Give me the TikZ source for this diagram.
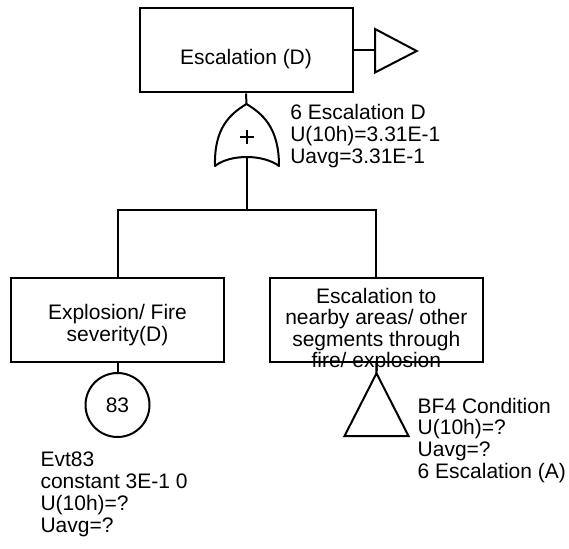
\documentclass[tikz,border=0pt]{standalone}
\usepackage{fontspec}
\setmainfont{Liberation Sans}
\begin{document}
\begin{tikzpicture}[x=1pt, y=-1pt, line width=2pt,
  every node/.style={font=\fontsize{21}{22}\selectfont, inner sep=0pt},
  box/.style={draw, minimum width=213pt, minimum height=84pt},
  basic/.style={draw, circle, minimum size=64pt},
  lbl/.style={anchor=base west},
  boxtext/.style={anchor=base}]
\useasboundingbox (0,0) rectangle (569,548);

% top event and its transfer-out triangle
\node[box] (top) at (246,50.5) {};
\node[boxtext] (toptxt) at (246,64.3) {Escalation (D)};
\coordinate (xferA) at (375,29);
\coordinate (xferB) at (375,72.5);
\coordinate (xferC) at (416.7,51);
\coordinate (xferIn) at (375,50.5);
\draw (xferA) -- (xferC) -- (xferB) -- cycle;
\draw (top.east) -- (xferIn);

% OR gate
\coordinate (gatetop) at (246.5,104);
\coordinate (gatebot) at (246.5,157);
\coordinate (gateL) at (215,166);
\coordinate (gateR) at (279,166);
\draw[line join=round] (gateL) .. controls (214,128) and (230,114) .. (gatetop)
  .. controls (263,114) and (279,128) .. (gateR)
  .. controls (263,154) and (230,154) .. cycle;
\coordinate (plus) at (246.5,136.7);
\draw ([xshift=-7pt]plus) -- ([xshift=7pt]plus);
\draw ([yshift=-7pt]plus) -- ([yshift=7pt]plus);
\node[lbl] (gatelbl) at (289.3,120) {\begin{tabular}[t]{@{}l@{}}6 Escalation D\\U(10h)=3.31E-1\\Uavg=3.31E-1\end{tabular}};
\draw (top.south) -- (gatetop);

% inputs of the gate
\node[box] (left) at (117.5,320) {};
\node[boxtext] (lefttxt) at (117.5,319) {\begin{tabular}[t]{@{}c@{}}Explosion/ Fire\\severity(D)\end{tabular}};
\node[box] (right) at (376.3,320) {};
\node[boxtext, font=\fontsize{21}{20.7}\selectfont] (righttxt) at (376.3,303.5)
  {\begin{tabular}[t]{@{}c@{}}Escalation to\\nearby areas/ other\\segments through\\fire/ explosion\end{tabular}};

\coordinate (bus) at (246.5,210);
\draw (gatebot) -- (bus);
\draw (left.north) |- (bus) -| (right.north);

% basic event 83
\node[basic] (evt) at (117.5,405) {83};
\draw (left.south) -- (evt.north);
\node[lbl] (evtlbl) at (39.5,466) {\begin{tabular}[t]{@{}l@{}}Evt83\\constant 3E-1 0\\U(10h)=?\\Uavg=?\end{tabular}};

% transfer-in triangle
\coordinate (trTop) at (376.5,373.3);
\coordinate (trL) at (344.5,436);
\coordinate (trR) at (408.5,436);
\draw[line join=miter] (trTop) -- (trR) -- (trL) -- cycle;
\draw (right.south) -- (trTop);
\node[lbl, font=\fontsize{21}{21.5}\selectfont] (trlbl) at (416.7,413.3) {\begin{tabular}[t]{@{}l@{}}BF4 Condition\\U(10h)=?\\Uavg=?\\6 Escalation (A)\end{tabular}};
\end{tikzpicture}
\end{document}
